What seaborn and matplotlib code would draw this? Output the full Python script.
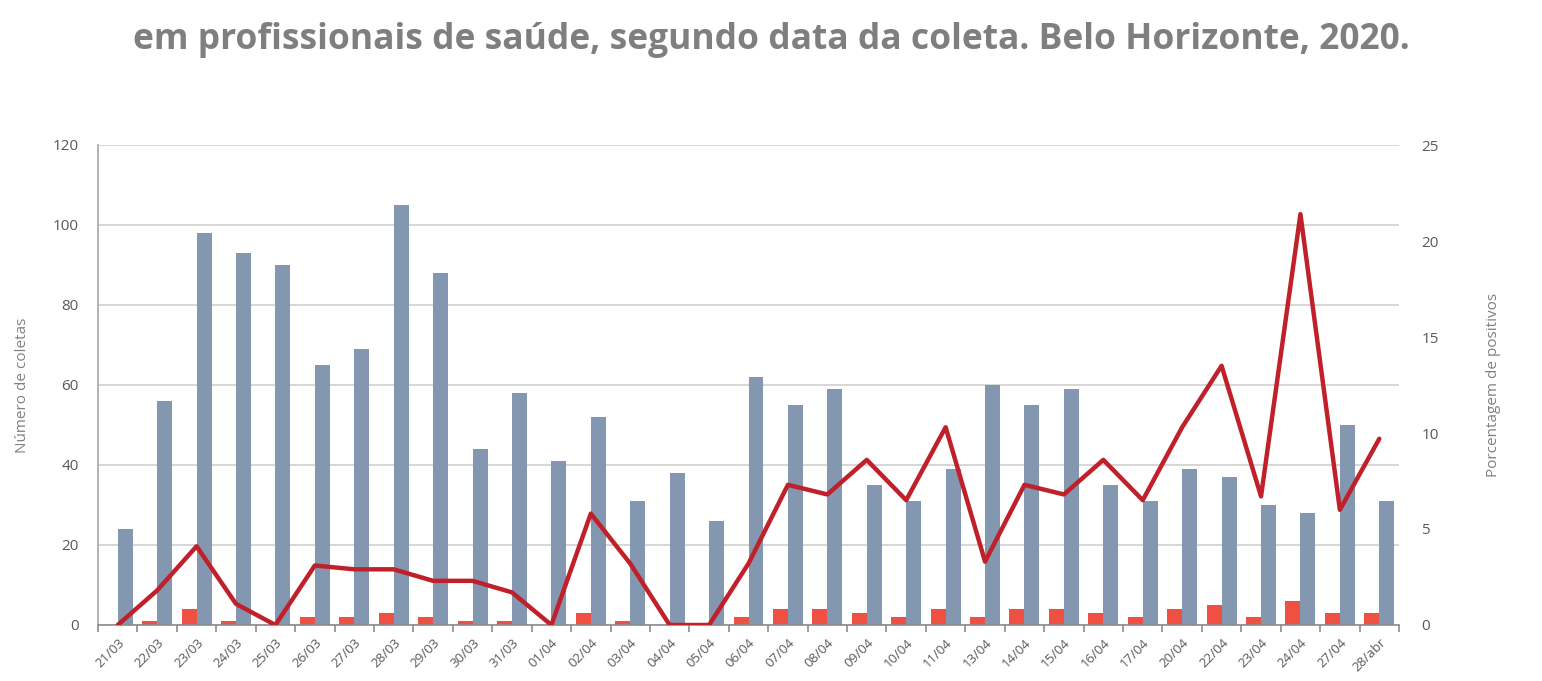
import numpy as np
import pandas as pd
import matplotlib
matplotlib.use("Agg")
import matplotlib.pyplot as plt
import seaborn as sns
from matplotlib.ticker import FixedLocator

datas = ["21/03", "22/03", "23/03", "24/03", "25/03", "26/03", "27/03", "28/03",
         "29/03", "30/03", "31/03", "01/04", "02/04", "03/04", "04/04", "05/04",
         "06/04", "07/04", "08/04", "09/04", "10/04", "11/04", "13/04", "14/04",
         "15/04", "16/04", "17/04", "20/04", "22/04", "23/04", "24/04", "27/04",
         "28/abr"]
coletas = [24, 56, 98, 93, 90, 65, 69, 105, 88, 44, 58, 41, 52, 31, 38, 26, 62,
           55, 59, 35, 31, 39, 60, 55, 59, 35, 31, 39, 37, 30, 28, 50, 31]
positivos = [0, 1, 4, 1, 0, 2, 2, 3, 2, 1, 1, 0, 3, 1, 0, 0, 2, 4, 4, 3, 2, 4,
             2, 4, 4, 3, 2, 4, 5, 2, 6, 3, 3]
porcentagem = [0, 1.8, 4.1, 1.1, 0, 3.1, 2.9, 2.9, 2.3, 2.3, 1.7, 0, 5.8, 3.2,
               0, 0, 3.2, 7.3, 6.8, 8.6, 6.5, 10.3, 3.3, 7.3, 6.8, 8.6, 6.5,
               10.3, 13.5, 6.7, 21.4, 6.0, 9.7]

sns.set_theme(style="white")
plt.rcParams['font.family'] = ['Open Sans', 'DejaVu Sans']

df = pd.DataFrame({"Data": datas * 2,
                   "Valor": positivos + coletas,
                   "Serie": ["Positivos"] * len(datas) + ["Coletas"] * len(datas)})

fig = plt.figure(figsize=(15.42, 6.81), dpi=100)
ax = fig.add_axes([98 / 1542, 1 - 625 / 681, (1399 - 98) / 1542, (625 - 145) / 681])

sns.barplot(data=df, x="Data", y="Valor", hue="Serie", order=datas,
            hue_order=["Positivos", "Coletas"],
            palette={"Positivos": "#ef5042", "Coletas": "#8497b0"},
            width=0.76, ax=ax, legend=False, saturation=1, linewidth=0)

ax.set_ylim(0, 120)
ax.set_yticks(range(0, 121, 20))
ax.set_xlim(-0.5, len(datas) - 0.5)
ax.grid(axis="y", color="#d0d0d0", linewidth=1.2)
ax.set_axisbelow(True)
for s in ["top", "right"]:
    ax.spines[s].set_visible(False)
ax.spines["left"].set_color("#a6a6a6")
ax.spines["bottom"].set_color("#8c8c8c")
ax.spines["left"].set_linewidth(1.2)
ax.spines["bottom"].set_linewidth(1.2)

ax.set_xticks(range(len(datas)))
ax.set_xticklabels(datas, rotation=45, ha="right", rotation_mode="anchor",
                   fontsize=9.5, color="#595959")
ax.tick_params(axis="x", which="major", length=0, pad=8)
ax.xaxis.set_minor_locator(FixedLocator(np.arange(-0.5, len(datas), 1.0)))
ax.tick_params(axis="x", which="minor", length=5, width=1.2, color="#8c8c8c",
               direction="out", bottom=True)
ax.tick_params(axis="y", length=0, pad=14, labelsize=11, labelcolor="#595959")
ax.set_xlabel("")
ax.set_ylabel("Número de coletas", fontsize=11, color="#808080", labelpad=16)

ax2 = ax.twinx()
sns.lineplot(x=np.arange(len(datas)), y=porcentagem, ax=ax2, color="#c0202a",
             linewidth=3.2)
ax2.set_ylim(0, 25)
ax2.set_yticks(range(0, 26, 5))
for s in ["top", "right", "left", "bottom"]:
    ax2.spines[s].set_visible(False)
ax2.tick_params(axis="y", length=0, pad=16, labelsize=11, labelcolor="#595959")
ax2.set_ylabel("Porcentagem de positivos", fontsize=11, color="#808080",
               labelpad=34)
ax2.grid(False)

fig.text(0.5, 1 - 40 / 681,
         "em profissionais de saúde, segundo data da coleta. Belo Horizonte, 2020.",
         ha="center", va="center", fontsize=25.5, fontweight="bold", color="#7f7f7f")

fig.savefig("out.png", dpi=100)
